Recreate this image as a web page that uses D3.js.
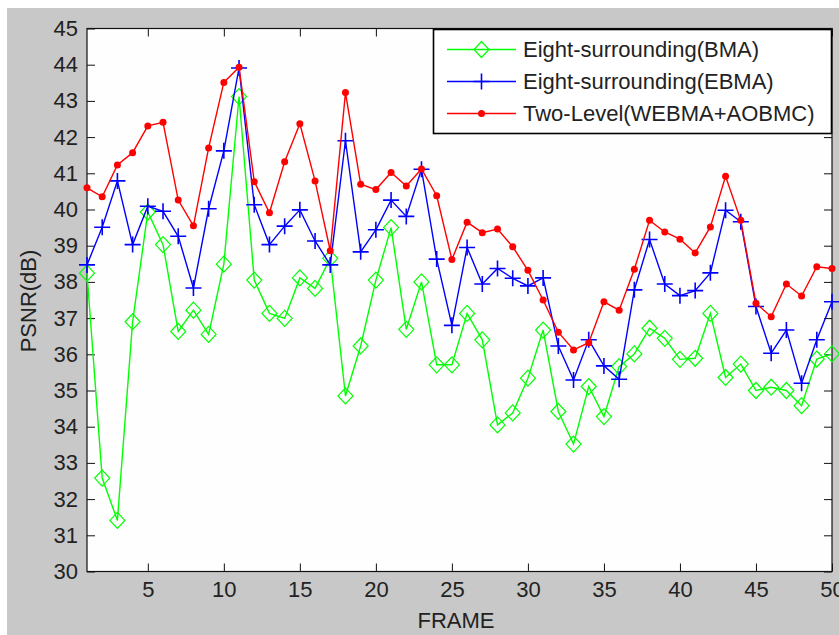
<!DOCTYPE html>
<html>
<head>
<meta charset="utf-8">
<script src="https://cdn.jsdelivr.net/npm/d3@7"></script>
<style>
  body { margin: 0; background: #fff; }
  text { font-family: "Liberation Sans", Arial, sans-serif; fill: #222; }
</style>
</head>
<body>
<svg width="839" height="635"></svg>
<script>
// frame numbers 1..50
var frames = d3.range(1, 51);

// PSNR values
var bma = [38.24, 32.58, 31.41, 36.90, 39.93, 39.03, 36.63, 37.22, 36.55, 38.49,
  43.12, 38.05, 37.13, 36.99, 38.11, 37.82, 38.65, 34.85, 36.23, 38.05,
  39.50, 36.69, 38.00, 35.71, 35.71, 37.13, 36.40, 34.05, 34.38, 35.34,
  36.67, 34.42, 33.52, 35.11, 34.28, 35.66, 36.01, 36.72, 36.44, 35.86,
  35.89, 37.13, 35.36, 35.73, 35.00, 35.09, 35.00, 34.58, 35.87, 36.01];

var ebma = [38.47, 39.51, 40.79, 39.03, 40.09, 39.95, 39.26, 37.83, 40.02, 41.62,
  43.91, 40.13, 39.03, 39.54, 39.99, 39.13, 38.47, 41.90, 38.83, 39.44,
  40.26, 39.81, 41.11, 38.63, 36.80, 38.95, 37.94, 38.37, 38.10, 37.89,
  38.11, 36.23, 35.29, 36.40, 35.68, 35.31, 37.78, 39.17, 37.94, 37.62,
  37.76, 38.25, 39.98, 39.66, 37.32, 36.03, 36.67, 35.20, 36.40, 37.45];

var twoLevel = [40.60, 40.35, 41.23, 41.57, 42.31, 42.41, 40.26, 39.55, 41.70, 43.51,
  43.93, 40.77, 39.91, 41.32, 42.37, 40.79, 38.86, 43.23, 40.70, 40.55,
  41.02, 40.65, 41.12, 40.38, 38.62, 39.65, 39.36, 39.46, 38.97, 38.32,
  37.50, 36.61, 36.12, 36.32, 37.45, 37.22, 38.35, 39.70, 39.38, 39.18,
  38.80, 39.52, 40.92, 39.70, 37.41, 37.04, 37.94, 37.61, 38.42, 38.37];

var seriesNames = ["Eight-surrounding(BMA)", "Eight-surrounding(EBMA)", "Two-Level(WEBMA+AOBMC)"];
var seriesColors = ["#00ff00", "#0000ff", "#ff0000"];
var seriesMarkers = ["diamond", "plus", "dot"];

var xTicks = [5, 10, 15, 20, 25, 30, 35, 40, 45, 50];
var yTicks = d3.range(30, 46);

var svg = d3.select("svg");

// grey figure background, small white strip on top
svg.append("rect")
  .attr("x", 7).attr("y", 8)
  .attr("width", 832).attr("height", 627)
  .attr("fill", "#c8c8c8");

// bit of the sub-caption cut off at the top
svg.append("text")
  .attr("x", 400).attr("y", -5)
  .attr("text-anchor", "middle")
  .style("font-size", "22px")
  .text("(c)");

// plot box edges (not named "top": that clashes with window.top)
var pLeft = 87, pRight = 832, pTop = 28.5, pBottom = 571.5;

var x = d3.scaleLinear().domain([1, 50]).range([pLeft, pRight]);
var y = d3.scaleLinear().domain([30, 45]).range([pBottom, pTop]);

// white plot area
svg.append("rect")
  .attr("x", pLeft).attr("y", pTop)
  .attr("width", pRight - pLeft).attr("height", pBottom - pTop)
  .attr("fill", "#fefefe");

function styleAxis(g, showText) {
  g.select(".domain").remove();
  g.selectAll(".tick line").attr("stroke", "#111");
  g.selectAll(".tick text")
    .style("font-size", "22px")
    .attr("fill", "#222")
    .style("display", showText ? null : "none");
}

svg.append("g")
  .attr("transform", "translate(0," + pBottom + ")")
  .call(d3.axisBottom(x).tickValues(xTicks).tickSize(-8).tickSizeOuter(0).tickPadding(10))
  .call(styleAxis, true);

svg.append("g")
  .attr("transform", "translate(0," + pTop + ")")
  .call(d3.axisTop(x).tickValues(xTicks).tickSize(-8).tickSizeOuter(0))
  .call(styleAxis, false);

svg.append("g")
  .attr("transform", "translate(" + pLeft + ",0)")
  .call(d3.axisLeft(y).tickValues(yTicks).tickSize(-8).tickSizeOuter(0).tickPadding(9).tickFormat(d3.format("d")))
  .call(styleAxis, true);

svg.append("g")
  .attr("transform", "translate(" + pRight + ",0)")
  .call(d3.axisRight(y).tickValues(yTicks).tickSize(-8).tickSizeOuter(0))
  .call(styleAxis, false);

// axes box
svg.append("rect")
  .attr("x", pLeft).attr("y", pTop)
  .attr("width", pRight - pLeft).attr("height", pBottom - pTop)
  .attr("fill", "none")
  .attr("stroke", "#111")
  .attr("stroke-width", 1.2);

// axis labels
svg.append("text")
  .attr("x", 456).attr("y", 620)
  .attr("dy", "0.35em")
  .attr("text-anchor", "middle")
  .style("font-size", "22px")
  .text("FRAME");

svg.append("text")
  .attr("transform", "translate(28,301) rotate(-90)")
  .attr("dy", "0.35em")
  .attr("text-anchor", "middle")
  .style("font-size", "22px")
  .text("PSNR(dB)");

// marker drawing helper
function drawMarker(g, type, color) {
  if (type === "diamond") {
    g.append("path")
      .attr("d", "M0,-8L7.5,0L0,8L-7.5,0Z")
      .attr("fill", "none")
      .attr("stroke", color)
      .attr("stroke-width", 1.2);
  } else if (type === "plus") {
    g.append("path")
      .attr("d", "M-8,0H8M0,-8V8")
      .attr("stroke", color)
      .attr("stroke-width", 1.6);
  } else {
    g.append("circle")
      .attr("r", 3.5)
      .attr("fill", color);
  }
}

var line = d3.line()
  .x(function (d, i) { return x(frames[i]); })
  .y(function (d) { return y(d); });

[bma, ebma, twoLevel].forEach(function (vals, k) {
  var g = svg.append("g").attr("class", "series");
  g.append("path")
    .datum(vals)
    .attr("d", line)
    .attr("fill", "none")
    .attr("stroke", seriesColors[k])
    .attr("stroke-width", 1.4);
  g.selectAll("g.mk")
    .data(vals)
    .enter().append("g")
    .attr("class", "mk")
    .attr("transform", function (d, i) { return "translate(" + x(frames[i]) + "," + y(d) + ")"; })
    .each(function () { drawMarker(d3.select(this), seriesMarkers[k], seriesColors[k]); });
});

// legend
var legend = svg.append("g");
legend.append("rect")
  .attr("x", 433.5).attr("y", 29.5)
  .attr("width", 398).attr("height", 104)
  .attr("fill", "#fff")
  .attr("stroke", "#000")
  .attr("stroke-width", 1.6);

seriesNames.forEach(function (name, k) {
  var ly = 49.5 + k * 32;
  var row = legend.append("g");
  row.append("line")
    .attr("x1", 447).attr("x2", 516)
    .attr("y1", ly).attr("y2", ly)
    .attr("stroke", seriesColors[k])
    .attr("stroke-width", 1.4);
  drawMarker(row.append("g").attr("transform", "translate(481.5," + ly + ")"), seriesMarkers[k], seriesColors[k]);
  row.append("text")
    .attr("x", 523).attr("y", ly)
    .attr("dy", "0.35em")
    .style("font-size", "22px")
    .text(name);
});
</script>
</body>
</html>
